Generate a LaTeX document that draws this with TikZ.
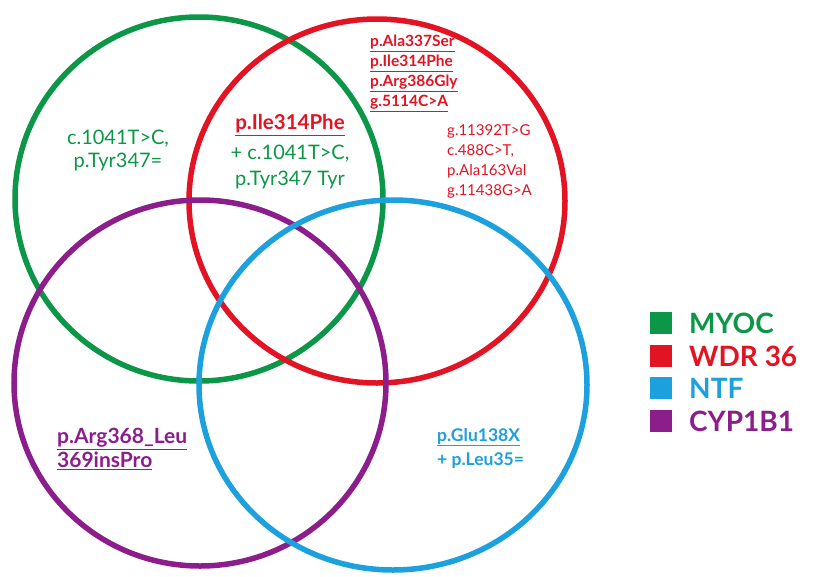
\documentclass[tikz,border=0pt]{standalone}
\usepackage{fontspec}
\setmainfont{Lato}
\definecolor{cgreen}{RGB}{12,150,72}
\definecolor{cred}{RGB}{226,20,36}
\definecolor{cblue}{RGB}{28,160,222}
\definecolor{cpurple}{RGB}{140,30,140}
\tikzset{
  ring/.style={line width=5.5pt},
  lab/.style={inner sep=0pt, align=center},
  sq/.style={minimum size=22pt, inner sep=0pt},
  legtxt/.style={anchor=west, inner sep=0pt, font=\fontsize{28}{30}\selectfont\bfseries}
}
\begin{document}
\begin{tikzpicture}[x=1pt,y=-1pt]
\useasboundingbox (0,0) rectangle (813,576);
\fill[white] (0,0) rectangle (813,576);
% circles
\draw[ring, cgreen] (199,199) ellipse[x radius=184, y radius=182];
\draw[ring, cred] (377,201) ellipse[x radius=188, y radius=182];
\draw[ring, cpurple] (200,383) ellipse[x radius=186, y radius=183];
\draw[ring, cblue] (393,385) ellipse[x radius=194, y radius=185];
% texts
\node[lab, text=cgreen, font=\fontsize{20}{23}\selectfont] (g1) at (118,150) {c.1041T>C,\\p.Tyr347=};
\node[lab, text=cred, font=\fontsize{20.5}{23}\selectfont\bfseries] (r0) at (290,125) {\underline{p.Ile314Phe}};
\node[lab, text=cgreen, font=\fontsize{20}{26}\selectfont] (g2) at (290,167) {+ c.1041T>C,\\p.Tyr347 Tyr};
\node[lab, text=cred, font=\fontsize{15.5}{20}\selectfont\bfseries, align=left, anchor=north west] (r1) at (370,35) {\underline{p.Ala337Ser}\\\underline{p.Ile314Phe}\\\underline{p.Arg386Gly}\\\underline{g.5114C>A}};
\node[lab, text=cred, font=\fontsize{15}{20}\selectfont, align=left, anchor=north west] (r2) at (447,124) {g.11392T>G\\c.488C>T,\\p.Ala163Val\\g.11438G>A};
\node[lab, text=cpurple, font=\fontsize{21}{24}\selectfont\bfseries, align=left, anchor=north west] (p1) at (57,428) {\underline{p.Arg368\_Leu}\\\underline{369insPro}};
\node[lab, text=cblue, font=\fontsize{17.5}{24}\selectfont\bfseries, align=left, anchor=north west] (b1) at (437,428) {\underline{p.Glu138X}\\+ p.Leu35=};
% legend
\node[sq, fill=cgreen] (s1) at (661,323) {};
\node[sq, fill=cred] (s2) at (661,356) {};
\node[sq, fill=cblue] (s3) at (661,388) {};
\node[sq, fill=cpurple] (s4) at (661,421) {};
\node[legtxt, text=cgreen] (t1) at (689,323) {MYOC};
\node[legtxt, text=cred] (t2) at (689,356) {WDR 36};
\node[legtxt, text=cblue] (t3) at (689,388) {NTF};
\node[legtxt, text=cpurple] (t4) at (689,421) {CYP1B1};
\end{tikzpicture}
\end{document}
